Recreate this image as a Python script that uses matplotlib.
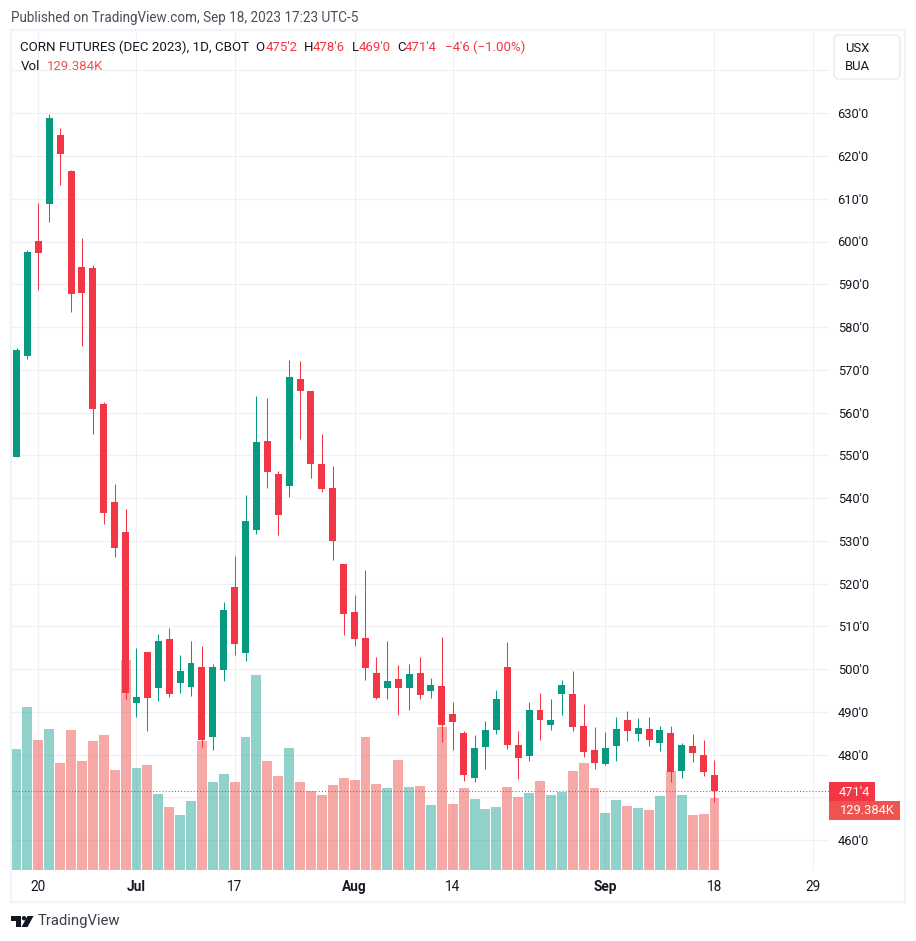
import matplotlib
matplotlib.use("Agg")
import matplotlib.pyplot as plt
from matplotlib.patches import Rectangle, FancyBboxPatch, Circle, Polygon

plt.rcParams['font.family'] = ['Roboto', 'DejaVu Sans']

# daily bars
opens = [549.7, 573.2, 600.1, 608.8, 624.9, 616.5, 594.1, 593.8, 562.0, 539.1, 532.1, 492.1, 504.0, 495.6, 507.1, 496.8,
         495.8, 500.5, 484.1, 499.8, 519.2, 503.8, 532.6, 553.4, 545.7, 542.8, 567.9, 565.1, 548.0, 542.4, 524.6, 513.4,
         507.3, 499.1, 495.6, 497.7, 495.6, 499.1, 494.9, 496.1, 489.5, 485.1, 474.6, 481.8, 485.8, 500.5, 482.3, 479.7,
         490.5, 487.0, 494.2, 494.2, 486.7, 481.1, 477.8, 482.0, 488.1, 484.9, 486.0, 482.7, 485.1, 476.2, 482.0, 479.9,
         475.25]
closes = [574.6, 597.6, 597.3, 628.9, 620.5, 587.7, 588.0, 560.9, 536.5, 528.3, 494.4, 493.5, 493.3, 506.6, 494.2, 499.6,
          501.5, 483.4, 500.5, 513.8, 505.9, 534.7, 553.1, 546.1, 536.1, 568.3, 565.1, 548.0, 542.1, 530.0, 512.9, 507.1,
          500.3, 493.3, 497.2, 495.6, 498.9, 494.0, 496.3, 487.0, 487.7, 475.3, 481.6, 485.8, 493.0, 482.3, 479.2, 490.5,
          488.1, 488.1, 496.3, 486.5, 480.6, 478.1, 481.6, 486.0, 485.5, 486.2, 483.4, 485.8, 476.0, 482.3, 480.4, 476.0,
          471.5]
highs = [575.1, 598.0, 609.0, 629.8, 626.6, 616.7, 600.8, 594.5, 562.5, 543.3, 537.5, 505.0, 504.0, 508.2, 509.6, 503.3,
         506.6, 505.4, 501.2, 515.7, 526.5, 540.7, 563.9, 563.4, 546.4, 572.3, 572.1, 565.1, 555.0, 547.5, 524.6, 517.4,
         523.2, 502.9, 506.6, 501.0, 501.2, 502.9, 497.9, 507.5, 492.3, 485.5, 484.6, 487.9, 495.1, 506.4, 485.5, 492.3,
         494.4, 493.0, 497.5, 499.6, 491.9, 486.5, 485.3, 488.8, 490.2, 488.6, 488.8, 486.7, 486.7, 482.7, 484.9, 483.4,
         478.75]
lows = [549.7, 572.6, 588.7, 604.6, 613.2, 583.5, 575.6, 555.0, 534.0, 526.2, 493.0, 488.8, 485.5, 492.6, 493.5, 494.4,
        493.7, 481.8, 481.1, 497.2, 503.3, 501.9, 531.6, 542.4, 531.4, 540.3, 553.8, 544.7, 541.4, 525.5, 508.0, 505.4,
        497.5, 493.0, 493.0, 489.3, 490.5, 493.0, 493.3, 483.0, 481.1, 473.9, 473.6, 476.7, 484.9, 481.3, 474.3, 478.5,
        483.4, 485.8, 489.3, 485.5, 479.5, 476.7, 477.6, 478.5, 483.2, 483.2, 482.0, 480.9, 473.6, 474.6, 478.3, 475.0,
        469.0]
# volume in thousands
volumes = [217.4, 292.9, 233.6, 253.4, 192.3, 251.6, 195.9, 231.8, 242.6, 179.7, 377.4, 183.3, 188.7, 136.6, 113.2, 98.8,
           124.0, 231.8, 158.1, 172.5, 158.1, 239.0, 350.4, 195.9, 168.9, 219.2, 158.1, 142.0, 134.8, 152.7, 165.3, 161.7,
           239.0, 154.5, 147.4, 197.7, 149.2, 150.9, 116.8, 257.0, 118.6, 147.4, 127.6, 109.6, 113.2, 149.2, 131.2, 138.4,
           159.9, 134.8, 140.2, 177.9, 192.3, 147.4, 102.4, 125.8, 115.0, 111.4, 107.8, 133.0, 177.9, 134.8, 98.8, 100.6,
           129.384]

price_ticks = list(range(460, 650, 10))
date_ticks = [2, 11, 20, 31, 40, 54, 64, 73]
date_labels = ['20', 'Jul', '17', 'Aug', '14', 'Sep', '18', '29']
months = ['Jul', 'Aug', 'Sep']

UP = '#089981'
DOWN = '#f23645'
VOL_UP = '#26a69a'
VOL_DOWN = '#ef5350'
GRID = '#eff0f4'
FRAME = '#f0f3fa'
TEXT = '#131722'
W, H = 916, 941

fig = plt.figure(figsize=(W / 100, H / 100), dpi=100, facecolor='white')

# price pane, y range matches the pixel scale of the chart
ax = fig.add_axes([12 / W, 1 - 870 / H, (829 - 12) / W, (870 - 32) / H])
ymin, ymax = 453.0, 649.0
vol_top = 1506.0
ax.set_xlim(-0.413, 74.5)
ax.set_ylim(ymin, ymax)
for s in ax.spines.values():
    s.set_visible(False)

ax.set_axisbelow(True)
ax.grid(True, color=GRID, lw=0.75)

xs = list(range(len(closes)))
ups = [c >= o for o, c in zip(opens, closes)]

# volume sits at the bottom of the same pane
vol_h = [v / vol_top * (ymax - ymin) for v in volumes]
ax.bar(xs, vol_h, width=0.91, bottom=ymin, color=[VOL_UP if u else VOL_DOWN for u in ups], alpha=0.5, lw=0, zorder=1)

colors = [UP if u else DOWN for u in ups]
ax.vlines(xs, lows, highs, colors=colors, lw=0.75, zorder=2)
ax.bar(xs, [abs(c - o) for o, c in zip(opens, closes)], width=0.64, bottom=[min(o, c) for o, c in zip(opens, closes)],
       color=colors, zorder=3)

ax.axhline(closes[-1], color=DOWN, lw=0.75, ls=(0, (1, 2)), zorder=4)

ax.yaxis.tick_right()
ax.set_yticks(price_ticks)
ax.set_yticklabels(["" if p in (470, 640) else f"{p}'0" for p in price_ticks], fontsize=9.3, color=TEXT)
ax.set_xticks(date_ticks)
ax.set_xticklabels(date_labels, fontsize=9.8, color=TEXT)
for lab in ax.get_xticklabels():
    if lab.get_text() in months:
        lab.set_fontweight('bold')
ax.tick_params(axis='both', length=0)
ax.tick_params(axis='y', pad=6.2)
ax.tick_params(axis='x', pad=7.5)

# overlay in pixel coordinates for the frame, header and logo
ov = fig.add_axes([0, 0, 1, 1], facecolor='none')
ov.set_xlim(0, W)
ov.set_ylim(H, 0)
ov.axis('off')

ov.add_patch(Rectangle((10.5, 30), 894.5, 872, fill=False, ec=FRAME, lw=1.5))

ov.text(11, 18, 'Published on TradingView.com, Sep 18, 2023 17:23 UTC-5', fontsize=9.75, color='#4a4e57', va='center')

head_y = 47.5
ov.text(20, head_y, 'CORN FUTURES (DEC 2023), 1D, CBOT', fontsize=9.65, color=TEXT, va='center')
ohlc = [(255.5, 'O', TEXT), (265.5, "475'2", DOWN), (304, 'H', TEXT), (313, "478'6", DOWN), (352, 'L', TEXT),
        (358.5, "469'0", DOWN), (397, 'C', TEXT), (405, "471'4", DOWN), (445, "\u22124'6 (\u22121.00%)", DOWN)]
for x, s, c in ohlc:
    ov.text(x, head_y, s, fontsize=9.5, color=c, va='center')
ov.text(20.5, 66, 'Vol', fontsize=9.5, color=TEXT, va='center')
ov.text(47, 66, '129.384K', fontsize=9.5, color='#ef5350', va='center')

# unit button
ov.add_patch(FancyBboxPatch((837, 38), 60, 38, boxstyle='round,pad=3,rounding_size=5', fc='white', ec='#e0e3eb', lw=0.8))
ov.text(845, 48, 'USX', fontsize=9.4, color=TEXT, va='center')
ov.text(845, 66, 'BUA', fontsize=9.4, color=TEXT, va='center')

# last price and volume tags
ov.add_patch(Rectangle((829, 782), 46, 19, fc=DOWN, ec='none'))
ov.add_patch(Rectangle((829, 801), 71, 19, fc='#ef5350', ec='none'))
ov.text(838.5, 792, "471'4", fontsize=9.3, color='white', va='center')
ov.text(839.5, 811, '129.384K', fontsize=9.3, color='white', va='center')

# logo
ov.add_patch(Polygon([(11, 916), (21, 916), (21, 927), (16, 927), (16, 920.5), (11, 920.5)], fc='#131722', ec='none'))
ov.add_patch(Circle((24, 918.2), 2.2, fc='#131722', ec='none'))
ov.add_patch(Polygon([(27.5, 916), (33.5, 916), (27.5, 927), (21.5, 927)], fc='#131722', ec='none'))
ov.text(38, 921.5, 'TradingView', fontsize=10.7, color='#3a3e48', va='center')

fig.savefig('out.png', dpi=100, facecolor='white')
